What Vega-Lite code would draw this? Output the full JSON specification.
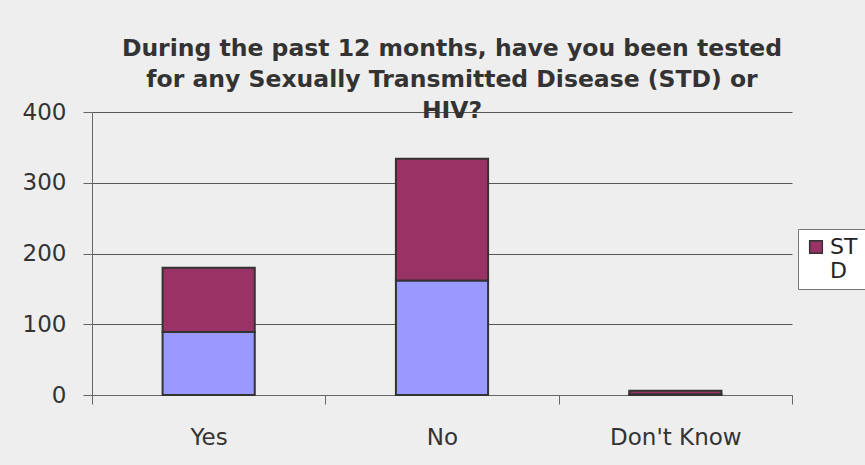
{
  "$schema": "https://vega.github.io/schema/vega-lite/v6.json",
  "width": 700,
  "height": 283,
  "autosize": {"type": "none"},
  "padding": {"left": 92, "top": 112, "right": 73, "bottom": 70},
  "background": "#EEEEEE",
  "title": {
    "text": ["During the past 12 months, have you been tested", "for any Sexually Transmitted Disease (STD) or", "HIV?"],
    "anchor": "middle",
    "orient": "top",
    "baseline": "bottom",
    "offset": -45,
    "dx": 10,
    "font": "DejaVu Sans",
    "fontWeight": "bold",
    "fontSize": 23.5,
    "lineHeight": 31,
    "color": "#333333"
  },
  "data": {
    "values": [
      {"answer": "Yes", "series": "HIV", "count": 89},
      {"answer": "Yes", "series": "STD", "count": 91},
      {"answer": "No", "series": "HIV", "count": 162},
      {"answer": "No", "series": "STD", "count": 172},
      {"answer": "Don't Know", "series": "HIV", "count": 1},
      {"answer": "Don't Know", "series": "STD", "count": 5}
    ]
  },
  "mark": {"type": "bar", "stroke": "#333333", "strokeWidth": 2, "width": {"band": 0.395}},
  "encoding": {
    "x": {
      "field": "answer",
      "type": "nominal",
      "sort": ["Yes", "No", "Don't Know"],
      "scale": {"paddingInner": 0, "paddingOuter": 0},
      "axis": {
        "title": null,
        "labelAngle": 0,
        "labelFont": "DejaVu Sans",
        "labelFontSize": 23,
        "labelColor": "#333333",
        "labelPadding": 22,
        "tickBand": "extent",
        "tickSize": 9,
        "tickColor": "#666666",
        "domainColor": "#666666",
        "grid": false
      }
    },
    "y": {
      "field": "count",
      "type": "quantitative",
      "stack": "zero",
      "scale": {"domain": [0, 400], "nice": false},
      "axis": {
        "title": null,
        "values": [0, 100, 200, 300, 400],
        "labelFont": "DejaVu Sans",
        "labelFontSize": 23,
        "labelColor": "#333333",
        "labelPadding": 17,
        "tickSize": 9,
        "tickColor": "#666666",
        "domainColor": "#666666",
        "gridColor": "#555555",
        "gridOpacity": 1,
        "gridWidth": 1
      }
    },
    "color": {
      "field": "series",
      "type": "nominal",
      "scale": {"domain": ["HIV", "STD"], "range": ["#9999FF", "#993366"]},
      "legend": {
        "title": null,
        "values": ["STD"],
        "orient": "none",
        "legendX": 706,
        "legendY": 117,
        "padding": 7,
        "fillColor": "#FFFFFF",
        "strokeColor": "#777777",
        "symbolType": "square",
        "symbolSize": 160,
        "symbolStrokeColor": "#333333",
        "symbolStrokeWidth": 1.5,
        "symbolOpacity": 1,
        "labelFont": "DejaVu Sans",
        "labelFontSize": 22,
        "labelColor": "#222222",
        "labelExpr": "datum.label == 'STD' ? ['ST', 'D'] : datum.label",
        "labelOffset": 3
      }
    },
    "order": {"field": "series", "sort": "ascending"}
  },
  "config": {"view": {"stroke": null}}
}
